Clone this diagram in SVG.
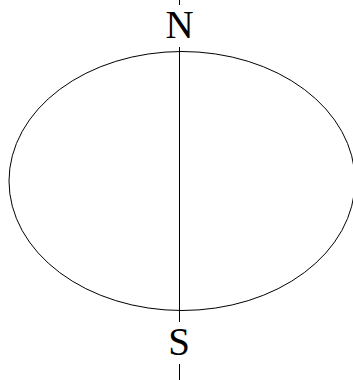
<svg xmlns="http://www.w3.org/2000/svg" width="353" height="380" viewBox="0 0 353 380">
<style>
.ln{stroke:#000;stroke-width:1;fill:none}
.lbl{font-family:"Liberation Serif","Times New Roman",serif;font-size:39px;fill:#000;text-anchor:middle}
</style>
<rect width="353" height="380" fill="#fff"/>
<g id="globe">
<ellipse class="ln" cx="182" cy="181" rx="173" ry="129.5"/>
</g>
<g id="connectors">
<line class="ln" x1="179.5" y1="0" x2="179.5" y2="5"/>
<line class="ln" x1="179.5" y1="47" x2="179.5" y2="322"/>
<line class="ln" x1="179.5" y1="364" x2="179.5" y2="380"/>
</g>
<g id="north"><text class="lbl" x="179.5" y="38">N</text></g>
<g id="south"><text class="lbl" x="179" y="355">S</text></g>
</svg>
